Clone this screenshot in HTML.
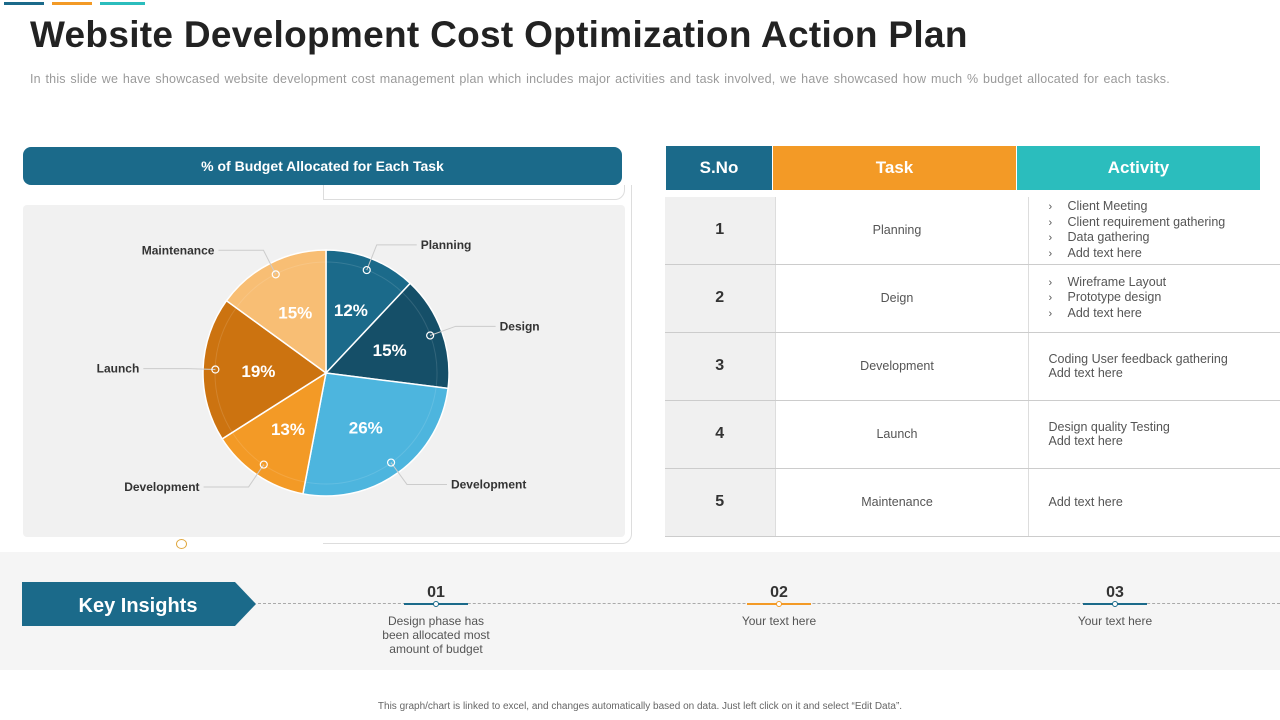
<!DOCTYPE html>
<html><head><meta charset="utf-8">
<style>
body{margin:0;width:1280px;height:720px;background:#fff;font-family:"Liberation Sans",sans-serif;position:relative;overflow:hidden}
.abs{position:absolute}
.cond{font-family:"Liberation Sans Narrow","Liberation Sans",sans-serif;font-weight:bold}
table{border-collapse:collapse}
.hd{position:absolute;top:146px;height:44px;line-height:44px;color:#fff;font-size:17px;text-align:center}
</style></head><body>
<div class="abs" style="left:4px;top:2px;width:40px;height:3px;background:#1b6a8a"></div>
<div class="abs" style="left:52px;top:2px;width:40px;height:3px;background:#f39a26"></div>
<div class="abs" style="left:100px;top:2px;width:45px;height:3px;background:#2bbdbd"></div>
<div class="abs" style="left:30px;top:14px;font-size:37px;font-weight:bold;color:#222;letter-spacing:0.3px">Website Development Cost Optimization Action Plan</div>
<div class="abs" style="left:30px;top:72px;font-size:12.5px;color:#9a9a9a;letter-spacing:0.2px;word-spacing:1px">In this slide we have showcased website development cost management plan which includes major activities and task involved, we have showcased how much % budget allocated for each tasks.</div>

<div class="abs" style="left:23px;top:147px;width:599px;height:38px;background:#1b6a8a;border-radius:8px;color:#fff;font-size:14px;text-align:center;line-height:38px" ><span class="cond">% of Budget Allocated for Each Task</span></div>
<div class="abs" style="left:323px;top:185px;width:308px;height:358px;border:1px solid #ddd;border-left:none;border-top:none;border-radius:0 0 10px 0"></div>
<div class="abs" style="left:323px;top:185px;width:300px;height:14px;border-left:1px solid #ddd;border-bottom:1px solid #ddd;border-right:1px solid #ddd;border-radius:0 0 10px 0"></div>
<div class="abs" style="left:23px;top:205px;width:602px;height:332px;background:#f1f1f1;border-radius:4px"></div>
<div class="abs" style="left:176px;top:539px;width:9px;height:8px;border:1.5px solid #e0a840;border-radius:50%;background:#fff"></div>

<svg class="abs" id="pie" style="left:0;top:0" width="640" height="560"></svg>

<div class="hd cond" style="left:666px;width:106px;background:#1b6a8a">S.No</div>
<div class="hd cond" style="left:773px;width:243px;background:#f39a26">Task</div>
<div class="hd cond" style="left:1017px;width:243px;background:#2bbdbd">Activity</div>

<table class="abs" style="left:665px;top:197px;width:615px;font-size:12.5px;color:#555">
<colgroup><col style="width:110px"><col style="width:253px"><col></colgroup>
<tbody id="tb"></tbody>
</table>

<div class="abs" style="left:0;top:552px;width:1280px;height:118px;background:#f5f5f5"></div>
<svg class="abs" style="left:22px;top:582px" width="235" height="44"><polygon points="0,0 213,0 234,22 213,44 0,44" fill="#1b6a8a"/><text x="116" y="30" text-anchor="middle" font-size="20" fill="#fff" font-weight="bold" font-family="Liberation Sans Narrow,Liberation Sans,sans-serif">Key Insights</text></svg>
<div class="abs" style="left:258px;top:603px;width:1022px;border-top:1px dashed #aaa"></div>
<div id="ins"></div>
<div class="abs" style="left:0;width:1280px;text-align:center;top:701px;font-size:10px;color:#666">This graph/chart is linked to excel, and changes automatically based on data. Just left click on it and select “Edit Data”.</div>

<script>
const categories=["Planning","Design","Development","Development","Launch","Maintenance"];
const values=[12,15,26,13,19,15];
const colors=["#1b6a8a","#154f68","#4db5de","#f39a26","#cc7310","#f8be74"];
const NS="http://www.w3.org/2000/svg";
const svg=document.getElementById('pie');
const cx=326,cy=373,R=123;
function mk(t,a){const e=document.createElementNS(NS,t);for(const k in a)e.setAttribute(k,a[k]);svg.appendChild(e);return e;}
const total=values.reduce((a,b)=>a+b,0);
function pt(ang,r){return [cx+r*Math.sin(ang),cy-r*Math.cos(ang)];}
let start=0;
values.forEach((v,i)=>{
 const a0=start/total*2*Math.PI,a1=(start+v)/total*2*Math.PI,am=(a0+a1)/2;start+=v;
 const [x0,y0]=pt(a0,R),[x1,y1]=pt(a1,R);
 const large=(a1-a0)>Math.PI?1:0;
 const s=mk('path',{d:`M${cx},${cy}L${x0},${y0}A${R},${R} 0 ${large} 1 ${x1},${y1}Z`,fill:colors[i],stroke:'#fff','stroke-width':1.5});
 
 
 const [ix0,iy0]=pt(a0,R-12),[ix1,iy1]=pt(a1,R-12);
 mk('path',{d:`M${ix0},${iy0}A${R-12},${R-12} 0 ${large} 1 ${ix1},${iy1}`,fill:'none',stroke:'rgba(255,255,255,0.12)','stroke-width':1});
 const [lx,ly]=pt(am,R*0.55);
 const t=mk('text',{x:lx,y:ly+6,'text-anchor':'middle','font-size':17,'font-weight':'bold',fill:'#fff','font-family':'Liberation Sans Narrow,Liberation Sans,sans-serif'});
 t.textContent=v+'%';
 
 
 const [mx,my]=pt(am,R*0.9);
 const [ex,ey]=pt(am,R*1.12);
 const right=Math.sin(am)>=0;
 const hx=ex+(right?40:-45);
 mk('polyline',{points:`${mx},${my} ${ex},${ey} ${hx},${ey}`,fill:'none',stroke:'#ccc','stroke-width':1});
 mk('circle',{cx:mx,cy:my,r:3.5,fill:'none',stroke:'#fff','stroke-width':1.2});
 const lab=mk('text',{x:hx+(right?4:-4),y:ey+4,'text-anchor':right?'start':'end','font-size':12,'font-weight':'bold',fill:'#333','font-family':'Liberation Sans Narrow,Liberation Sans,sans-serif'});
 lab.textContent=categories[i];
 
 
});
const rows=[["Planning",["Client Meeting","Client requirement gathering","Data gathering","Add text here"],true],
["Deign",["Wireframe Layout","Prototype design","Add text here"],true],
["Development",["Coding User feedback gathering","Add text here"],false],
["Launch",["Design quality Testing","Add text here"],false],
["Maintenance",["Add text here"],false]];
const tb=document.getElementById('tb');
rows.forEach((r,i)=>{
 const tr=document.createElement('tr');tr.style.height=(i==0?67:68)+'px';
 
 
 const act=r[1].map(a=>(r[2]?'<span style="display:inline-block;width:19px;font-size:11px">›</span>':'')+a).join('<br>');
 tr.innerHTML=`<td style="background:#f0f0f0;text-align:center;font-weight:bold;font-size:16px;color:#333;border-bottom:1px solid #ccc;border-right:1px solid #ddd">${i+1}</td><td style="text-align:center;border-bottom:1px solid #ccc;border-right:1px solid #ddd;padding-right:10px">${r[0]}</td><td style="padding-left:20px;border-bottom:1px solid #ccc;line-height:14.5px">${act}</td>`;
 tb.appendChild(tr);
});
const ins=[["01","Design phase has<br>been allocated most<br>amount of budget",436,"#1b6a8a"],["02","Your text here",779,"#f39a26"],["03","Your text here",1115,"#1b6a8a"]];
const box=document.getElementById('ins');
ins.forEach((d,i)=>{
 const e=document.createElement('div');e.className='abs';
 
 
 e.style.cssText=`left:${d[2]-80}px;top:584px;width:160px;text-align:center`;
 e.innerHTML=`<div style="font-size:16px;font-weight:bold;color:#333;font-family:'Liberation Sans Narrow','Liberation Sans',sans-serif">${d[0]}</div><div style="margin:1px auto 0;width:64px;height:2px;background:${d[3]};position:relative"><div style="position:absolute;left:29px;top:-2px;width:4px;height:4px;border:1px solid ${d[3]};background:#fff;border-radius:50%"></div></div><div style="font-size:12px;color:#555;margin-top:9px;line-height:14px">${d[1]}</div>`;
 box.appendChild(e);
});
</script>
</body></html>
